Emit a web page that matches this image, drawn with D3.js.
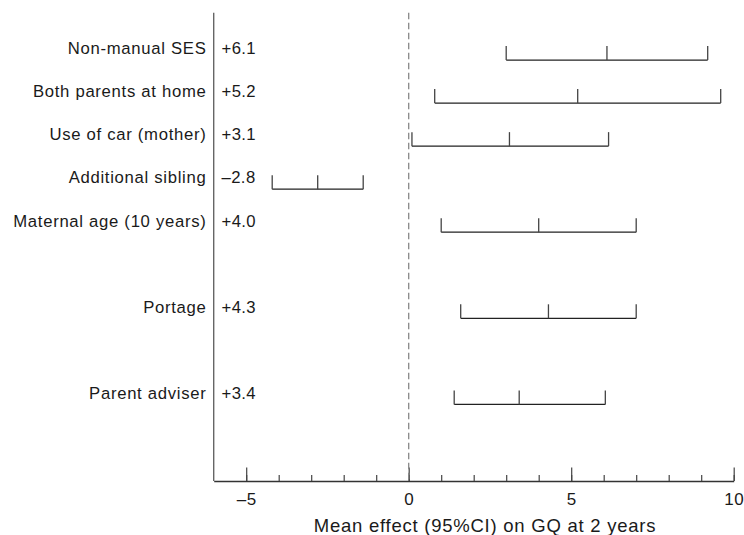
<!DOCTYPE html>
<html>
<head>
<meta charset="utf-8">
<script src="https://cdn.jsdelivr.net/npm/d3@7"></script>
<style>
  body { margin: 0; background: #fff; }
  text { font-family: "Liberation Sans", Arial, sans-serif; fill: #1a1a1a; }
</style>
</head>
<body>
<svg id="chart" width="744" height="535"></svg>
<script>
// factors, with mean effect and 95% CI on GQ at 2 years
var factors = ["Non-manual SES", "Both parents at home", "Use of car (mother)",
               "Additional sibling", "Maternal age (10 years)", "Portage", "Parent adviser"];
var rowSlot = [0, 1, 2, 3, 4, 6, 8]; // blank rows between the intervention groups
var means  = [6.1, 5.2, 3.1, -2.8, 4.0, 4.3, 3.4];
var lowers = [3.0, 0.8, 0.1, -4.2, 1.0, 1.6, 1.4];
var uppers = [9.2, 9.6, 6.15, -1.4, 7.0, 7.0, 6.05];
var majorTicks = [-5, 0, 5, 10];
var minorTicks = d3.range(-5, 11, 1);
var xTitle = "Mean effect (95%CI) on GQ at 2 years";

var svg = d3.select("#chart");

var x = d3.scaleLinear().domain([-6, 10]).range([213.7, 733.7]);
var y = d3.scaleLinear().domain([-1.1, 9.78]).range([12.7, 481]);

var dash = function(v){ return v < 0 ? "\u2013" + Math.abs(v) : String(v); };
var signed = function(v){ return (v < 0 ? "\u2013" : "+") + Math.abs(v).toFixed(1); };

var rows = factors.map(function(f, i){
    return { label: f, slot: rowSlot[i], mean: means[i], lo: lowers[i], hi: uppers[i] };
});

var capH = 14; // height of the end and mid ticks

/* ------- AXES -------*/
var axisY = y(9.78);

// minor ticks (every unit)
svg.append("g")
    .attr("transform", "translate(0," + axisY + ")")
    .call(d3.axisBottom(x).tickValues(minorTicks).tickSizeInner(-6).tickSizeOuter(0).tickFormat(""))
    .call(function(g){
        g.select(".domain").attr("stroke", "#333").attr("stroke-width", 1.4);
        g.selectAll(".tick line").attr("stroke", "#444").attr("stroke-width", 1.2);
    });

// major ticks with labels
svg.append("g")
    .attr("transform", "translate(0," + axisY + ")")
    .call(d3.axisBottom(x).tickValues(majorTicks).tickSizeInner(-13.5).tickSizeOuter(0)
        .tickPadding(12).tickFormat(dash))
    .call(function(g){
        g.select(".domain").remove();
        g.selectAll(".tick line").attr("stroke", "#444").attr("stroke-width", 1.2);
        g.selectAll(".tick text")
            .style("font-size", "17px")
            .style("letter-spacing", "0.4px")
            .attr("fill", "#1a1a1a");
    });

// left vertical line
svg.append("line")
    .attr("x1", x(-6)).attr("x2", x(-6))
    .attr("y1", y(-1.1)).attr("y2", axisY)
    .attr("stroke", "#666")
    .attr("stroke-width", 1.4);

// zero reference line
svg.append("line")
    .attr("x1", x(0)).attr("x2", x(0))
    .attr("y1", y(-1.1)).attr("y2", axisY)
    .attr("stroke", "#888")
    .attr("stroke-width", 1.3)
    .attr("stroke-dasharray", "6.5,3.5");

// axis title
svg.append("text")
    .attr("x", 485)
    .attr("y", 531.5)
    .attr("text-anchor", "middle")
    .style("font-size", "18.5px")
    .style("letter-spacing", "0.75px")
    .text(xTitle);

/* ------- LABELS -------*/
svg.append("g").selectAll("text")
    .data(rows)
    .enter().append("text")
    .attr("x", 206.5)
    .attr("y", function(d){ return y(d.slot) - 5.7; })
    .attr("text-anchor", "end")
    .style("font-size", "16.7px")
    .style("letter-spacing", "0.7px")
    .text(function(d){ return d.label; });

svg.append("g").selectAll("text")
    .data(rows)
    .enter().append("text")
    .attr("x", 221.5)
    .attr("y", function(d){ return y(d.slot) - 5.7; })
    .style("font-size", "16.7px")
    .style("letter-spacing", "0.4px")
    .text(function(d){ return signed(d.mean); });

/* ------- CI BARS -------*/
var bars = svg.append("g").selectAll("g")
    .data(rows)
    .enter().append("g")
    .attr("stroke", "#222")
    .attr("stroke-width", 1.3);

bars.append("line")
    .attr("x1", function(d){ return x(d.lo); })
    .attr("x2", function(d){ return x(d.hi); })
    .attr("y1", function(d){ return y(d.slot); })
    .attr("y2", function(d){ return y(d.slot); });

["lo", "mean", "hi"].forEach(function(k){
    bars.append("line")
        .attr("stroke", "#444")
        .attr("x1", function(d){ return x(d[k]); })
        .attr("x2", function(d){ return x(d[k]); })
        .attr("y1", function(d){ return y(d.slot) - capH; })
        .attr("y2", function(d){ return y(d.slot); });
});
</script>
</body>
</html>
